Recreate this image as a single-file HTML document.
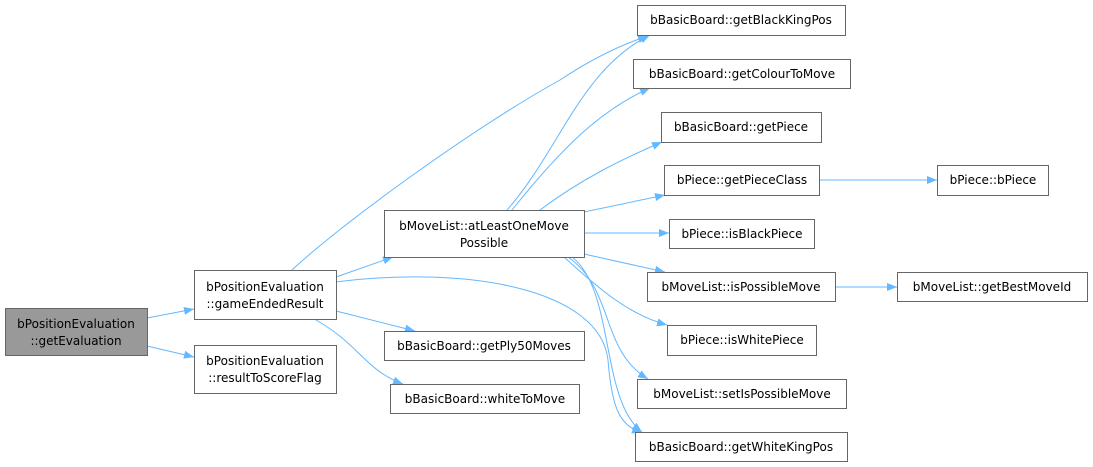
<!DOCTYPE html>
<html><head><meta charset="utf-8"><style>
html,body{margin:0;padding:0;background:#fff;width:1093px;height:467px;overflow:hidden}
svg text{font-family:"DejaVu Sans","Liberation Sans",sans-serif;font-size:12px;fill:#000}
</style></head><body>
<svg width="1093" height="467" viewBox="0 0 1093 467" xmlns="http://www.w3.org/2000/svg">
<defs><marker id="a" markerWidth="10" markerHeight="8" refX="10" refY="4" orient="auto" markerUnits="userSpaceOnUse"><path d="M0,0 L10,4 L0,8 z" fill="#63b8ff"/></marker></defs>
<g fill="none" stroke="#63b8ff" stroke-width="1" marker-end="url(#a)">
<path d="M147,318 L194,309"/>
<path d="M147,346 L194,357"/>
<path d="M336,277 L393,257"/>
<path d="M336,311 L415,331"/>
<path d="M316,320 C360,345 365,370 403,384"/>
<path d="M292,270 C340,225 470,130 560,80 C590,60 620,45 648,36"/>
<path d="M336,282 C470,265 600,290 608,360 C612,410 620,425 642,433"/>
<path d="M507,210 C560,150 580,70 650,35"/>
<path d="M512,210 C560,150 600,110 650,88"/>
<path d="M540,210 C580,180 620,160 662,142"/>
<path d="M584,212 L665,195"/>
<path d="M584,233 L669,233"/>
<path d="M584,254 L665,272"/>
<path d="M564,257 C600,290 630,315 667,325"/>
<path d="M568,257 C615,290 600,350 648,379"/>
<path d="M572,257 C615,290 600,400 642,432"/>
<path d="M819,180 L937,180"/>
<path d="M835,287 L897,287"/>
</g>
<g stroke="#666" stroke-width="1">
<rect x="5.5" y="308.5" width="142" height="47" fill="#999"/>
<rect x="194.5" y="270.5" width="142" height="49" fill="#fff"/>
<rect x="194.5" y="345.5" width="142" height="48" fill="#fff"/>
<rect x="384.5" y="210.5" width="200" height="47" fill="#fff"/>
<rect x="384.5" y="331.5" width="200" height="29" fill="#fff"/>
<rect x="390.5" y="384.5" width="189" height="29" fill="#fff"/>
<rect x="637.5" y="5.5" width="208" height="30" fill="#fff"/>
<rect x="633.5" y="59.5" width="217" height="29" fill="#fff"/>
<rect x="661.5" y="112.5" width="160" height="30" fill="#fff"/>
<rect x="664.5" y="165.5" width="155" height="30" fill="#fff"/>
<rect x="937.5" y="165.5" width="111" height="30" fill="#fff"/>
<rect x="669.5" y="219.5" width="145" height="29" fill="#fff"/>
<rect x="647.5" y="272.5" width="188" height="29" fill="#fff"/>
<rect x="897.5" y="272.5" width="190" height="29" fill="#fff"/>
<rect x="667.5" y="325.5" width="149" height="30" fill="#fff"/>
<rect x="637.5" y="379.5" width="209" height="29" fill="#fff"/>
<rect x="635.5" y="432.5" width="212" height="29" fill="#fff"/>
</g>
<g text-anchor="middle">
<text x="76" y="328">bPositionEvaluation</text><text x="76" y="345">::getEvaluation</text>
<text x="265" y="291">bPositionEvaluation</text><text x="265" y="308">::gameEndedResult</text>
<text x="265" y="365">bPositionEvaluation</text><text x="265" y="382">::resultToScoreFlag</text>
<text x="484" y="230">bMoveList::atLeastOneMove</text><text x="484" y="247">Possible</text>
<text x="484" y="350">bBasicBoard::getPly50Moves</text>
<text x="485" y="403">bBasicBoard::whiteToMove</text>
<text x="741" y="24">bBasicBoard::getBlackKingPos</text>
<text x="742" y="78">bBasicBoard::getColourToMove</text>
<text x="741" y="131">bBasicBoard::getPiece</text>
<text x="742" y="184">bPiece::getPieceClass</text>
<text x="993" y="184">bPiece::bPiece</text>
<text x="742" y="238">bPiece::isBlackPiece</text>
<text x="741" y="291">bMoveList::isPossibleMove</text>
<text x="992" y="291">bMoveList::getBestMoveId</text>
<text x="742" y="344">bPiece::isWhitePiece</text>
<text x="742" y="398">bMoveList::setIsPossibleMove</text>
<text x="741" y="451">bBasicBoard::getWhiteKingPos</text>
</g>
</svg>
</body></html>
